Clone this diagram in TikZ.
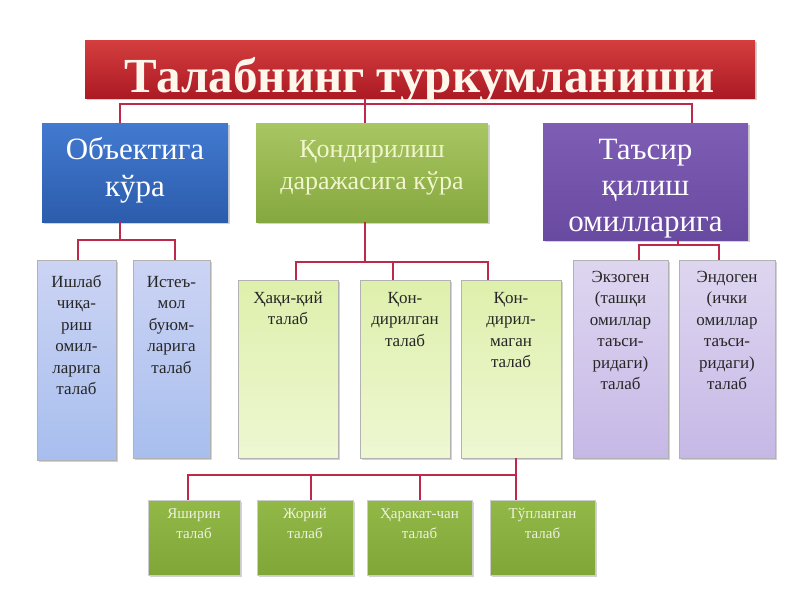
\documentclass[tikz,border=0pt]{standalone}
\usepackage{fontspec}
\setmainfont{Liberation Serif}
\usetikzlibrary{shadows}
\definecolor{cline}{RGB}{190,40,75}
\definecolor{redtop}{RGB}{212,62,62}
\definecolor{redbot}{RGB}{172,26,36}
\definecolor{bluetop}{RGB}{66,122,208}
\definecolor{bluebot}{RGB}{44,92,172}
\definecolor{greentop}{RGB}{168,198,98}
\definecolor{greenbot}{RGB}{134,168,64}
\definecolor{purptop}{RGB}{126,94,180}
\definecolor{purpbot}{RGB}{104,74,160}
\definecolor{lbtop}{RGB}{204,212,244}
\definecolor{lbbot}{RGB}{168,190,238}
\definecolor{lgtop}{RGB}{222,240,172}
\definecolor{lgbot}{RGB}{238,247,210}
\definecolor{lptop}{RGB}{222,214,240}
\definecolor{lpbot}{RGB}{198,184,230}
\definecolor{dgtop}{RGB}{146,184,72}
\definecolor{dgbot}{RGB}{128,166,56}
\newcommand\tbox[4]{\parbox[c][#2][t]{#1}{\centering\vspace*{#3}\strut #4\par}}
\begin{document}
\begin{tikzpicture}[x=1pt,y=-1pt,
  conn/.style={draw=cline, line width=1.6pt},
  shad/.style={drop shadow={shadow xshift=1.5pt, shadow yshift=-1.5pt, opacity=.35}},
  lvlone/.style={rectangle, inner sep=0pt, shad},
  child/.style={rectangle, inner sep=0pt, draw=black!30, line width=.6pt, shad,
    font=\fontsize{17}{21.5}\selectfont, text=black!85},
  leaf/.style={rectangle, inner sep=0pt, draw=white!80!black, line width=.6pt, shad,
    top color=dgtop, bottom color=dgbot,
    font=\fontsize{15}{20}\selectfont, text={rgb,255:red,238;green,242;blue,222}},
  bluechild/.style={child, top color=lbtop, bottom color=lbbot},
  greenchild/.style={child, top color=lgtop, bottom color=lgbot},
  purpchild/.style={child, top color=lptop, bottom color=lpbot}]
\useasboundingbox (0,0) rectangle (800,600);
\fill[white] (0,0) rectangle (800,600);

% title
\node[rectangle, inner sep=0pt, minimum width=670pt, minimum height=58pt,
  top color=redtop, bottom color=redbot, shad] (title) at (420,69) {};
\node[anchor=base, inner sep=0pt, font=\bfseries\fontsize{49}{49}\selectfont,
  text={rgb,255:red,255;green,246;blue,236}] (titletext) at (420,92) {Талабнинг туркумланиши};

% level 1
\node[lvlone, top color=bluetop, bottom color=bluebot,
  font=\fontsize{31}{37}\selectfont, text=white] (obj) at (135,172.5)
  {\tbox{186pt}{99pt}{11pt}{Объектига\\кўра}};
\node[lvlone, top color=greentop, bottom color=greenbot,
  font=\fontsize{26}{32}\selectfont, text={rgb,255:red,242;green,246;blue,205}] (ass) at (372,172.5)
  {\tbox{232pt}{99pt}{12.5pt}{Қондирилиш\\даражасига кўра}};
\node[lvlone, top color=purptop, bottom color=purpbot,
  font=\fontsize{31}{36}\selectfont, text=white] (tas) at (645.5,181.5)
  {\tbox{205pt}{117pt}{11.5pt}{Таъсир\\қилиш\\омилларига}};

% level 2 blue
\node[bluechild] (b1) at (76.5,360) {\tbox{79pt}{200pt}{12pt}{Ишлаб\\чиқа-\\риш\\омил-\\ларига\\талаб}};
\node[bluechild] (b2) at (171.5,359) {\tbox{77pt}{198pt}{12pt}{Истеъ-\\мол\\буюм-\\ларига\\талаб}};

% level 2 green
\node[greenchild] (g1) at (288,369) {\tbox{100pt}{178pt}{8pt}{Ҳақи-қий\\талаб}};
\node[greenchild] (g2) at (405,369) {\tbox{90pt}{178pt}{8pt}{Қон-\\дирилган\\талаб}};
\node[greenchild] (g3) at (511,369) {\tbox{100pt}{178pt}{8pt}{Қон-\\дирил-\\маган\\талаб}};

% level 2 purple
\node[purpchild] (p1) at (620.5,359) {\tbox{95pt}{198pt}{7pt}{Экзоген\\(ташқи\\омиллар\\таъси-\\ридаги)\\талаб}};
\node[purpchild] (p2) at (727,359) {\tbox{96pt}{198pt}{7pt}{Эндоген\\(ички\\омиллар\\таъси-\\ридаги)\\талаб}};

% level 3
\node[leaf] (k1) at (194,537.5) {\tbox{92pt}{75pt}{4pt}{Яширин\\талаб}};
\node[leaf] (k2) at (305,537.5) {\tbox{96pt}{75pt}{4pt}{Жорий\\талаб}};
\node[leaf] (k3) at (419.5,537.5) {\tbox{105pt}{75pt}{4pt}{Ҳаракат-чан\\талаб}};
\node[leaf] (k4) at (542.5,537.5) {\tbox{105pt}{75pt}{4pt}{Тўпланган\\талаб}};

% connectors
\coordinate (tdrop) at ([xshift=-7pt]ass.north);
\draw[conn] (title.south -| tdrop) -- (tdrop);
\draw[conn] ([xshift=-15pt]obj.north) -- ++(0,-19) -| ([xshift=46.5pt]tas.north);

\draw[conn] ([xshift=-15pt]obj.south) -- ++(0,18);
\draw[conn] ([xshift=1.5pt]b1.north) -- ++(0,-20) -| ([xshift=3.5pt]b2.north);

\draw[conn] ([xshift=-7pt]ass.south) -- ++(0,40);
\draw[conn] ([xshift=8pt]g1.north) -- ++(0,-18) -| ([xshift=-23pt]g3.north);
\draw[conn] ([xshift=-12pt]g2.north) -- ++(0,-18);

\draw[conn] ([xshift=32.5pt]tas.south) -- ++(0,5);
\draw[conn] ([xshift=18.5pt]p1.north) -- ++(0,-15) -| ([xshift=-8pt]p2.north);

\draw[conn] ([xshift=5pt]g3.south) -- ([xshift=-26.5pt]k4.north);
\draw[conn] ([xshift=-6pt]k1.north) -- ++(0,-25) -| ([xshift=5pt]g3.south);
\draw[conn] ([xshift=6pt]k2.north) -- ++(0,-25);
\draw[conn] ([xshift=0.5pt]k3.north) -- ++(0,-25);
\end{tikzpicture}
\end{document}
